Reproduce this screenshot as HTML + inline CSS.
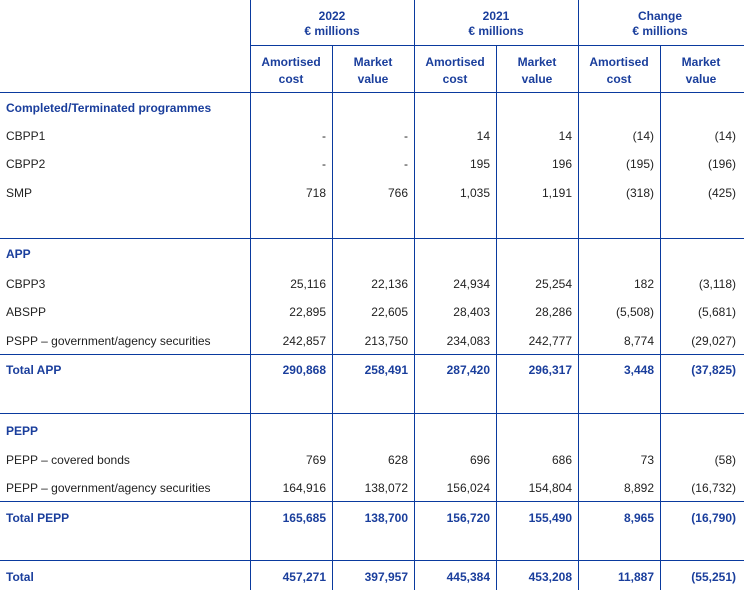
<!DOCTYPE html>
<html><head><meta charset="utf-8"><style>
body{margin:0;width:744px;height:596px;background:#fff;position:relative;overflow:hidden;font-family:"Liberation Sans",Arial,sans-serif;font-size:12px;color:#222}
.h{position:absolute;height:1px;background:#0a3a9e}
.v{position:absolute;width:1px;background:#0a3a9e}
.t{position:absolute;line-height:14px;white-space:nowrap}
.b{font-weight:bold;color:#1a3e9c}
.r{text-align:right;width:76px}
.c{text-align:center}
</style></head><body>
<div class="h" style="left:250px;width:494px;top:45px"></div>
<div class="h" style="left:0;width:744px;top:92px"></div>
<div class="h" style="left:0;width:744px;top:238px"></div>
<div class="h" style="left:0;width:744px;top:354px"></div>
<div class="h" style="left:0;width:744px;top:413px"></div>
<div class="h" style="left:0;width:744px;top:501px"></div>
<div class="h" style="left:0;width:744px;top:560px"></div>
<div class="v" style="left:250px;top:0;height:590px"></div>
<div class="v" style="left:332px;top:45px;height:545px"></div>
<div class="v" style="left:414px;top:0;height:590px"></div>
<div class="v" style="left:496px;top:45px;height:545px"></div>
<div class="v" style="left:578px;top:0;height:590px"></div>
<div class="v" style="left:660px;top:45px;height:545px"></div>

<div class="t b c" style="left:250px;width:164px;top:9px">2022<br><span style="line-height:17px">€ millions</span></div>
<div class="t b c" style="left:414px;width:164px;top:9px">2021<br><span style="line-height:17px">€ millions</span></div>
<div class="t b c" style="left:578px;width:164px;top:9px">Change<br><span style="line-height:17px">€ millions</span></div>
<div class="t b c" style="left:250px;width:82px;top:54px;line-height:17px">Amortised<br>cost</div>
<div class="t b c" style="left:332px;width:82px;top:54px;line-height:17px">Market<br>value</div>
<div class="t b c" style="left:414px;width:82px;top:54px;line-height:17px">Amortised<br>cost</div>
<div class="t b c" style="left:496px;width:82px;top:54px;line-height:17px">Market<br>value</div>
<div class="t b c" style="left:578px;width:82px;top:54px;line-height:17px">Amortised<br>cost</div>
<div class="t b c" style="left:660px;width:82px;top:54px;line-height:17px">Market<br>value</div>

<div class="t b" style="left:6px;top:101px">Completed/Terminated programmes</div>
<div class="t b" style="left:6px;top:247px">APP</div>
<div class="t b" style="left:6px;top:424px">PEPP</div>

<div class="t" style="left:6px;top:129px">CBPP1</div>
<div class="t r" style="left:250px;top:129px">-</div><div class="t r" style="left:332px;top:129px">-</div><div class="t r" style="left:414px;top:129px">14</div><div class="t r" style="left:496px;top:129px">14</div><div class="t r" style="left:578px;top:129px">(14)</div><div class="t r" style="left:660px;top:129px">(14)</div>

<div class="t" style="left:6px;top:157px">CBPP2</div>
<div class="t r" style="left:250px;top:157px">-</div><div class="t r" style="left:332px;top:157px">-</div><div class="t r" style="left:414px;top:157px">195</div><div class="t r" style="left:496px;top:157px">196</div><div class="t r" style="left:578px;top:157px">(195)</div><div class="t r" style="left:660px;top:157px">(196)</div>

<div class="t" style="left:6px;top:186px">SMP</div>
<div class="t r" style="left:250px;top:186px">718</div><div class="t r" style="left:332px;top:186px">766</div><div class="t r" style="left:414px;top:186px">1,035</div><div class="t r" style="left:496px;top:186px">1,191</div><div class="t r" style="left:578px;top:186px">(318)</div><div class="t r" style="left:660px;top:186px">(425)</div>

<div class="t" style="left:6px;top:277px">CBPP3</div>
<div class="t r" style="left:250px;top:277px">25,116</div><div class="t r" style="left:332px;top:277px">22,136</div><div class="t r" style="left:414px;top:277px">24,934</div><div class="t r" style="left:496px;top:277px">25,254</div><div class="t r" style="left:578px;top:277px">182</div><div class="t r" style="left:660px;top:277px">(3,118)</div>

<div class="t" style="left:6px;top:305px">ABSPP</div>
<div class="t r" style="left:250px;top:305px">22,895</div><div class="t r" style="left:332px;top:305px">22,605</div><div class="t r" style="left:414px;top:305px">28,403</div><div class="t r" style="left:496px;top:305px">28,286</div><div class="t r" style="left:578px;top:305px">(5,508)</div><div class="t r" style="left:660px;top:305px">(5,681)</div>

<div class="t" style="left:6px;top:334px">PSPP – government/agency securities</div>
<div class="t r" style="left:250px;top:334px">242,857</div><div class="t r" style="left:332px;top:334px">213,750</div><div class="t r" style="left:414px;top:334px">234,083</div><div class="t r" style="left:496px;top:334px">242,777</div><div class="t r" style="left:578px;top:334px">8,774</div><div class="t r" style="left:660px;top:334px">(29,027)</div>

<div class="t b" style="left:6px;top:363px">Total APP</div>
<div class="t r b" style="left:250px;top:363px">290,868</div><div class="t r b" style="left:332px;top:363px">258,491</div><div class="t r b" style="left:414px;top:363px">287,420</div><div class="t r b" style="left:496px;top:363px">296,317</div><div class="t r b" style="left:578px;top:363px">3,448</div><div class="t r b" style="left:660px;top:363px">(37,825)</div>

<div class="t" style="left:6px;top:453px">PEPP – covered bonds</div>
<div class="t r" style="left:250px;top:453px">769</div><div class="t r" style="left:332px;top:453px">628</div><div class="t r" style="left:414px;top:453px">696</div><div class="t r" style="left:496px;top:453px">686</div><div class="t r" style="left:578px;top:453px">73</div><div class="t r" style="left:660px;top:453px">(58)</div>

<div class="t" style="left:6px;top:481px">PEPP – government/agency securities</div>
<div class="t r" style="left:250px;top:481px">164,916</div><div class="t r" style="left:332px;top:481px">138,072</div><div class="t r" style="left:414px;top:481px">156,024</div><div class="t r" style="left:496px;top:481px">154,804</div><div class="t r" style="left:578px;top:481px">8,892</div><div class="t r" style="left:660px;top:481px">(16,732)</div>

<div class="t b" style="left:6px;top:511px">Total PEPP</div>
<div class="t r b" style="left:250px;top:511px">165,685</div><div class="t r b" style="left:332px;top:511px">138,700</div><div class="t r b" style="left:414px;top:511px">156,720</div><div class="t r b" style="left:496px;top:511px">155,490</div><div class="t r b" style="left:578px;top:511px">8,965</div><div class="t r b" style="left:660px;top:511px">(16,790)</div>

<div class="t b" style="left:6px;top:570px">Total</div>
<div class="t r b" style="left:250px;top:570px">457,271</div><div class="t r b" style="left:332px;top:570px">397,957</div><div class="t r b" style="left:414px;top:570px">445,384</div><div class="t r b" style="left:496px;top:570px">453,208</div><div class="t r b" style="left:578px;top:570px">11,887</div><div class="t r b" style="left:660px;top:570px">(55,251)</div>
</body></html>
